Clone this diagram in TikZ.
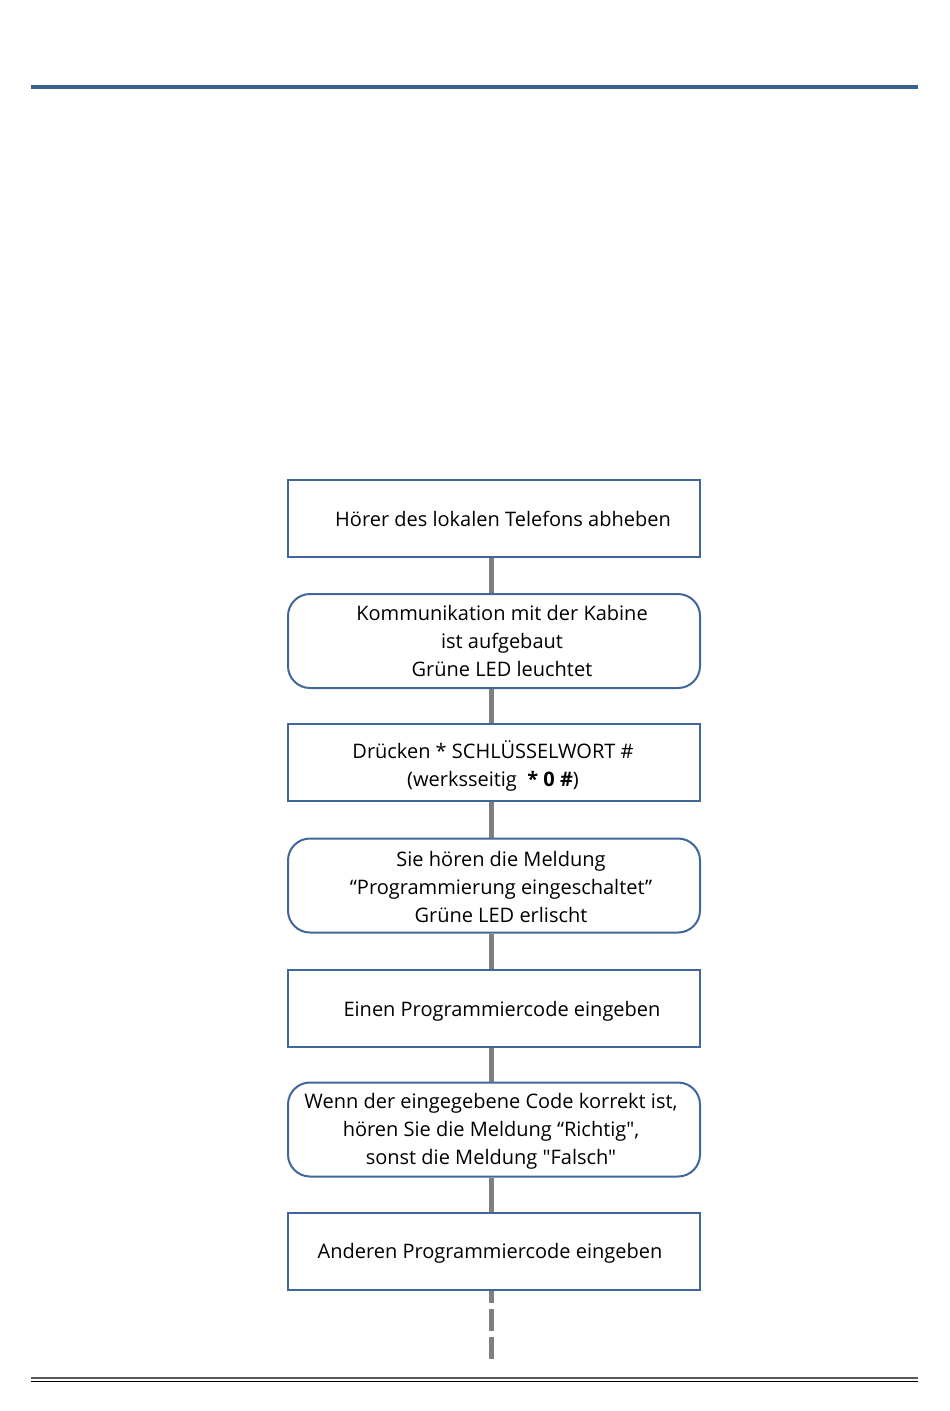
\documentclass[tikz,border=0pt]{standalone}
\usepackage{fontspec}
\setmainfont{Open Sans}[Ligatures=TeXOff]
\definecolor{boxblue}{HTML}{41679A}
\definecolor{rulblue}{HTML}{3A6090}
\definecolor{conngray}{HTML}{7F7F7F}
\begin{document}
\begin{tikzpicture}[x=1pt,y=-1pt,
  stepbox/.style={draw=boxblue,line width=2pt,minimum width=412pt,minimum height=77pt,inner sep=0pt},
  roundbox/.style={stepbox,minimum height=94pt,rounded corners=22pt},
  txt/.style={font=\fontsize{20}{28}\selectfont,align=center,inner sep=0pt},
  conn/.style={draw=conngray,line width=5pt},
  dashconn/.style={conn,dash pattern=on 22pt off 6pt,dash phase=10pt}]
\useasboundingbox (0,0) rectangle (950,1411);
\fill[white] (0,0) rectangle (950,1411);
% rules
\draw[rulblue,line width=4pt] (31,87) -- (918,87);
\draw[black!65,line width=2pt] (31,1378) -- (918,1378);
\draw[black,line width=1pt] (31,1381.5) -- (918,1381.5);
% boxes
\node[stepbox] (b1) at (494,518.5) {};
\node[roundbox] (b2) at (494,641) {};
\node[stepbox] (b3) at (494,762.5) {};
\node[roundbox] (b4) at (494,885.5) {};
\node[stepbox] (b5) at (494,1008.5) {};
\node[roundbox] (b6) at (494,1129.5) {};
\node[stepbox] (b7) at (494,1251.5) {};
\coordinate (end) at (491,1360);
% texts
\node[txt] (t1) at (503,519) {Hörer des lokalen Telefons abheben};
\node[txt] (t2) at (502,641) {Kommunikation mit der Kabine\\ist aufgebaut\\Grüne LED leuchtet};
\node[txt] (t3) at (493,766) {Drücken * SCHLÜSSELWORT \#\\(werksseitig \ \textbf{* 0 \#})};
\node[txt] (t4) at (501,887) {Sie hören die Meldung\\“Programmierung eingeschaltet”\\Grüne LED erlischt};
\node[txt] (t5) at (502,1011) {Einen Programmiercode eingeben};
\node[txt] (t6) at (491,1131) {Wenn der eingegebene Code korrekt ist,\\hören Sie die Meldung “Richtig",\\sonst die Meldung "Falsch"};
\node[txt] (t7) at (490,1253) {Anderen Programmiercode eingeben};
% connectors
\draw[conn] (b1.south -| 491,0) -- (b2.north -| 491,0);
\draw[conn] (b2.south -| 491,0) -- (b3.north -| 491,0);
\draw[conn] (b3.south -| 491,0) -- (b4.north -| 491,0);
\draw[conn] (b4.south -| 491,0) -- (b5.north -| 491,0);
\draw[conn] (b5.south -| 491,0) -- (b6.north -| 491,0);
\draw[conn] (b6.south -| 491,0) -- (b7.north -| 491,0);
\draw[dashconn] (b7.south -| 491,0) -- (end);
\end{tikzpicture}
\end{document}
